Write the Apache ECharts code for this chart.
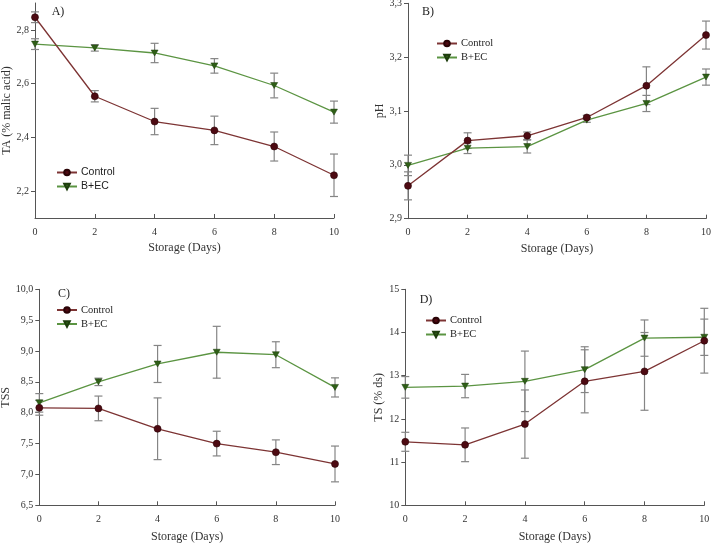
<!DOCTYPE html>
<html>
<head>
<meta charset="utf-8">
<script src="https://cdn.jsdelivr.net/npm/echarts@6/dist/echarts.min.js"></script>
<style>html,body{margin:0;padding:0;background:#fff}#c{width:713px;height:544px}</style>
</head>
<body>
<div id="c"></div>
<script>
// ---- data ----
const days = [0, 2, 4, 6, 8, 10];
const seriesNames = ['Control', 'B+EC'];
const panelLabels = ['A)', 'B)', 'C)', 'D)'];
const yNames = ['TA (% malic acid)', 'pH', 'TSS', 'TS (% ds)'];
const xName = 'Storage (Days)';

const taControl    = [2.847, 2.553, 2.459, 2.426, 2.366, 2.259];
const taControlErr = [0.02, 0.021, 0.049, 0.053, 0.054, 0.079];
const taBEC        = [2.747, 2.733, 2.714, 2.666, 2.593, 2.494];
const taBECErr     = [0.02, 0.012, 0.036, 0.027, 0.046, 0.041];

const phControl    = [2.961, 3.045, 3.054, 3.088, 3.147, 3.241];
const phControlErr = [0.026, 0.0145, 0.007, 0.004, 0.035, 0.026];
const phBEC        = [2.999, 3.031, 3.034, 3.083, 3.114, 3.163];
const phBECErr     = [0.019, 0.01, 0.012, 0.004, 0.015, 0.015];

const tssControl    = [8.08, 8.07, 7.74, 7.50, 7.36, 7.17];
const tssControlErr = [0.12, 0.20, 0.50, 0.20, 0.20, 0.29];
const tssBEC        = [8.16, 8.50, 8.79, 8.98, 8.94, 8.41];
const tssBECErr     = [0.15, 0.06, 0.30, 0.42, 0.21, 0.155];

const tsControl    = [11.47, 11.40, 11.88, 12.87, 13.10, 13.81];
const tsControlErr = [0.22, 0.39, 0.79, 0.73, 0.90, 0.75];
const tsBEC        = [12.73, 12.76, 12.87, 13.14, 13.87, 13.89];
const tsBECErr     = [0.25, 0.27, 0.70, 0.53, 0.42, 0.42];

const yTicksA = [2.2, 2.4, 2.6, 2.8];
const yTicksB = [2.9, 3.0, 3.1, 3.2, 3.3];
const yTicksC = [6.5, 7.0, 7.5, 8.0, 8.5, 9.0, 9.5, 10.0];
const yTicksD = [10, 11, 12, 13, 14, 15];

// ---- styling ----
const SERIF = 'Liberation Serif';
const SANS = 'Liberation Sans';
const axisCol = '#555555';
const errCol = '#858585';
const ctrlLine = '#7d3434';
const ctrlMark = '#4d0a12';
const becLine = '#5b9442';
const becMark = '#2f5f17';
const triDown = 'path://M0,0 L10,0 L5,9 Z';

const grids = [
  {left: 35, top: 3, width: 299, height: 215, outerBoundsMode: 'none', containLabel: false},
  {left: 408, top: 3.3, width: 298, height: 215.4, outerBoundsMode: 'none', containLabel: false},
  {left: 39.3, top: 289.3, width: 295.7, height: 216, outerBoundsMode: 'none', containLabel: false},
  {left: 405.3, top: 289.3, width: 299, height: 216, outerBoundsMode: 'none', containLabel: false}
];
const yRanges = [[2.1, 2.9], [2.9, 3.3], [6.5, 10.0], [10, 15]];
const yTicks = [yTicksA, yTicksB, yTicksC, yTicksD];
const yDec = [1, 1, 1, 0];
const yNameGap = [22, 21, 25, 20];
const xNameGap = [24, 24, 26, 26];
const panelData = [
  [taControl, taControlErr, taBEC, taBECErr],
  [phControl, phControlErr, phBEC, phBECErr],
  [tssControl, tssControlErr, tssBEC, tssBECErr],
  [tsControl, tsControlErr, tsBEC, tsBECErr]
];

const xAxes = [], yAxes = [], series = [], legends = [], graphics = [];

function errRender(params, api) {
  const x = api.value(0);
  const lo = api.coord([x, api.value(1)]);
  const hi = api.coord([x, api.value(2)]);
  const w = 4;
  const st = {stroke: errCol, lineWidth: 1.2};
  return {type: 'group', children: [
    {type: 'line', shape: {x1: lo[0], y1: lo[1], x2: hi[0], y2: hi[1]}, style: st},
    {type: 'line', shape: {x1: lo[0] - w, y1: lo[1], x2: lo[0] + w, y2: lo[1]}, style: st},
    {type: 'line', shape: {x1: hi[0] - w, y1: hi[1], x2: hi[0] + w, y2: hi[1]}, style: st}
  ]};
}

for (let i = 0; i < 4; i++) {
  xAxes.push({
    type: 'value', gridIndex: i, min: 0, max: 10, interval: 2,
    name: xName, nameLocation: 'middle', nameGap: xNameGap[i],
    nameTextStyle: {fontFamily: SERIF, fontSize: 12, color: '#333'},
    axisLine: {show: true, onZero: false, lineStyle: {color: axisCol, width: 1}},
    axisTick: {show: true, inside: true, length: 4, lineStyle: {color: axisCol}},
    axisLabel: {fontFamily: SERIF, fontSize: 10, color: '#333', margin: 9},
    splitLine: {show: false}
  });
  const dec = yDec[i];
  yAxes.push({
    type: 'value', gridIndex: i, min: yRanges[i][0], max: yRanges[i][1],
    name: yNames[i], nameLocation: 'middle', nameGap: yNameGap[i],
    nameTextStyle: {fontFamily: SERIF, fontSize: 12, color: '#333'},
    axisLine: {show: true, lineStyle: {color: axisCol, width: 1}},
    axisTick: {show: true, inside: false, length: 4, lineStyle: {color: axisCol}, customValues: yTicks[i]},
    axisLabel: {fontFamily: SERIF, fontSize: 10, color: '#333', margin: 6, customValues: yTicks[i],
      formatter: v => v.toFixed(dec).replace('.', ',')},
    splitLine: {show: false}
  });
  const [c, ce, b, be] = panelData[i];
  series.push({
    type: 'custom', xAxisIndex: i, yAxisIndex: i, renderItem: errRender, z: 1, silent: true,
    data: days.map((d, k) => [d, b[k] - be[k], b[k] + be[k]])
  });
  series.push({
    type: 'custom', xAxisIndex: i, yAxisIndex: i, renderItem: errRender, z: 1, silent: true,
    data: days.map((d, k) => [d, c[k] - ce[k], c[k] + ce[k]])
  });
  series.push({
    name: seriesNames[1], type: 'line', xAxisIndex: i, yAxisIndex: i, z: 3,
    data: days.map((d, k) => [d, b[k]]),
    symbol: triDown, symbolSize: [7, 6], showSymbol: true,
    lineStyle: {color: becLine, width: 1.3},
    itemStyle: {color: becMark, borderColor: '#1d3d0d', borderWidth: 0.5},
    animation: false
  });
  series.push({
    name: seriesNames[0], type: 'line', xAxisIndex: i, yAxisIndex: i, z: 4,
    data: days.map((d, k) => [d, c[k]]),
    symbol: 'circle', symbolSize: 7, showSymbol: true,
    lineStyle: {color: ctrlLine, width: 1.3},
    itemStyle: {color: ctrlMark, borderColor: '#2a0306', borderWidth: 0.6},
    animation: false
  });
}

const legendPos = [
  {left: 56, top: 167, font: SANS},
  {left: 436, top: 38, font: SERIF},
  {left: 56, top: 304.5, font: SERIF},
  {left: 425, top: 315, font: SERIF}
];
legendPos.forEach(p => legends.push({
  data: seriesNames, orient: 'vertical', left: p.left, top: p.top,
  itemWidth: 20, itemHeight: 7, itemGap: 3, padding: 0,
  selectedMode: false,
  textStyle: {fontFamily: p.font, fontSize: 10.5, color: '#222', padding: [0, 0, 0, -1]}
}));

const labelPos = [[58, 12], [428, 12], [64, 294], [426, 300]];
labelPos.forEach((p, i) => graphics.push({
  type: 'text', x: p[0], y: p[1],
  style: {text: panelLabels[i], font: '12px "Liberation Serif"', fill: '#222',
    textAlign: 'center', textVerticalAlign: 'middle'}
}));

const chart = echarts.init(document.getElementById('c'), null, {renderer: 'canvas'});
chart.setOption({
  animation: false,
  backgroundColor: '#ffffff',
  grid: grids,
  xAxis: xAxes,
  yAxis: yAxes,
  legend: legends,
  graphic: graphics,
  series: series
});
</script>
</body>
</html>
